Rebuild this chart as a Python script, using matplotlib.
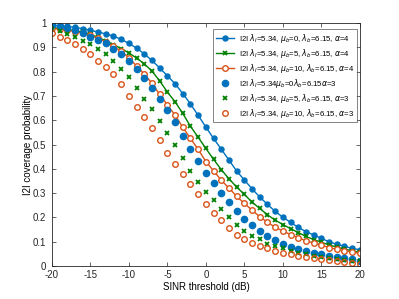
import matplotlib

matplotlib.use('Agg')

import matplotlib.pyplot as plt
import numpy as np

plt.rcParams.update({
    'font.family': ['Liberation Sans', 'DejaVu Sans'],
    'font.size': 7,
    'axes.unicode_minus': False,
    'axes.linewidth': 0.6,
    'axes.edgecolor': '#262626',
    'xtick.direction': 'in',
    'ytick.direction': 'in',
    'xtick.color': '#262626',
    'ytick.color': '#262626',
    'xtick.major.size': 3,
    'ytick.major.size': 3,
    'xtick.major.width': 0.5,
    'ytick.major.width': 0.5,
    'xtick.top': True,
    'ytick.right': True,
})

# SINR threshold in dB
sinr_db = np.arange(-20, 21)

# alpha = 4 (lines)
cov_mu0_a4 = [0.990, 0.989, 0.986, 0.982, 0.977, 0.970, 0.963, 0.955, 0.946, 0.933,
              0.916, 0.897, 0.873, 0.846, 0.815, 0.783, 0.750, 0.710, 0.667, 0.620,
              0.572, 0.525, 0.481, 0.436, 0.391, 0.354, 0.318, 0.284, 0.254, 0.225,
              0.201, 0.180, 0.159, 0.142, 0.128, 0.114, 0.100, 0.090, 0.081, 0.073,
              0.067]
cov_mu5_a4 = [0.982, 0.978, 0.974, 0.968, 0.962, 0.953, 0.941, 0.927, 0.911, 0.895,
              0.877, 0.856, 0.832, 0.802, 0.762, 0.716, 0.676, 0.628, 0.575, 0.530,
              0.484, 0.439, 0.397, 0.359, 0.325, 0.295, 0.263, 0.237, 0.211, 0.189,
              0.171, 0.154, 0.138, 0.122, 0.109, 0.098, 0.087, 0.078, 0.070, 0.063,
              0.057]
cov_mu10_a4 = [0.978, 0.974, 0.970, 0.965, 0.958, 0.949, 0.937, 0.922, 0.905, 0.884,
               0.857, 0.823, 0.790, 0.752, 0.706, 0.663, 0.621, 0.571, 0.525, 0.480,
               0.430, 0.392, 0.353, 0.321, 0.287, 0.258, 0.230, 0.203, 0.180, 0.160,
               0.144, 0.130, 0.117, 0.104, 0.095, 0.086, 0.076, 0.069, 0.063, 0.058,
               0.052]

# alpha = 3 (markers only)
cov_mu0_a3 = [0.992, 0.988, 0.978, 0.971, 0.958, 0.944, 0.930, 0.916, 0.892, 0.871,
              0.845, 0.809, 0.775, 0.734, 0.686, 0.642, 0.592, 0.537, 0.481, 0.432,
              0.384, 0.340, 0.299, 0.265, 0.228, 0.192, 0.169, 0.145, 0.123, 0.107,
              0.093, 0.080, 0.070, 0.063, 0.055, 0.048, 0.041, 0.037, 0.032, 0.028,
              0.023]
cov_mu5_a3 = [0.975, 0.967, 0.955, 0.944, 0.926, 0.912, 0.892, 0.871, 0.845, 0.811,
              0.778, 0.733, 0.689, 0.645, 0.597, 0.546, 0.498, 0.446, 0.391, 0.347,
              0.303, 0.270, 0.235, 0.200, 0.169, 0.145, 0.123, 0.110, 0.093, 0.082,
              0.073, 0.063, 0.055, 0.048, 0.042, 0.037, 0.033, 0.029, 0.025, 0.022,
              0.019]
cov_mu10_a3 = [0.958, 0.944, 0.930, 0.912, 0.892, 0.871, 0.845, 0.818, 0.789, 0.750,
               0.700, 0.656, 0.612, 0.569, 0.519, 0.466, 0.418, 0.377, 0.337, 0.295,
               0.254, 0.218, 0.189, 0.158, 0.130, 0.111, 0.096, 0.084, 0.074, 0.063,
               0.055, 0.049, 0.041, 0.036, 0.032, 0.028, 0.025, 0.021, 0.016, 0.014,
               0.008]

labels = [
    r'I2I $\lambda_I$=5.34, $\mu_b$=0, $\lambda_b$=6.15, $\alpha$=4',
    r'I2I $\lambda_I$=5.34, $\mu_b$=5, $\lambda_b$=6.15, $\alpha$=4',
    r'I2I $\lambda_I$=5.34, $\mu_b$=10, $\lambda_b$=6.15, $\alpha$=4',
    r'I2I $\lambda_I$=5.34$\mu_b$=0$\lambda_b$=6.15$\alpha$=3',
    r'I2I $\lambda_I$=5.34, $\mu_b$=5, $\lambda_b$=6.15, $\alpha$=3',
    r'I2I $\lambda_I$=5.34, $\mu_b$=10, $\lambda_b$=6.15, $\alpha$=3',
]

BLUE = '#0072BD'
GREEN = '#008000'
ORANGE = '#D95319'

fig = plt.figure(figsize=(3.99, 2.99), dpi=100)
ax = fig.add_axes([0.130, 0.110, 0.772, 0.813])

ax.plot(sinr_db, cov_mu0_a4, '-o', color=BLUE, lw=1, ms=3.6, label=labels[0])
ax.plot(sinr_db, cov_mu5_a4, '-x', color=GREEN, lw=1, ms=3.5, mew=1.3, label=labels[1])
ax.plot(sinr_db, cov_mu10_a4, '-o', color=ORANGE, lw=1, ms=4, mfc='white', mew=1,
        label=labels[2])
ax.plot(sinr_db, cov_mu0_a3, 'o', color=BLUE, ms=4.5, label=labels[3])
ax.plot(sinr_db, cov_mu5_a3, 'x', color=GREEN, ms=3.5, mew=1.3, label=labels[4])
ax.plot(sinr_db, cov_mu10_a3, 'o', color=ORANGE, ms=4, mfc='none', mew=1,
        label=labels[5])

ax.set_xlim(-20, 20)
ax.set_ylim(0, 1)
ax.set_xticks(np.arange(-20, 21, 5))
ax.set_yticks(np.arange(0, 1.01, 0.1))
ax.set_yticklabels(['0', '0.1', '0.2', '0.3', '0.4', '0.5', '0.6', '0.7', '0.8',
                    '0.9', '1'])
ax.tick_params(axis='x', labelsize=7, pad=3)
ax.tick_params(axis='y', labelsize=7, pad=4)
ax.set_xlabel('SINR threshold (dB)', fontsize=7, labelpad=1)
ax.set_ylabel('I2I coverage probability', fontsize=7, labelpad=0)

leg = ax.legend(loc='upper right', fontsize=5.6, frameon=True, fancybox=False,
                edgecolor='#262626', handlelength=2.4, handletextpad=0.6,
                labelspacing=0.25, borderpad=0.35, borderaxespad=0,
                bbox_to_anchor=(0.99, 0.975))
leg.get_frame().set_linewidth(0.5)

fig.savefig('out.png', dpi=100, facecolor='white')
